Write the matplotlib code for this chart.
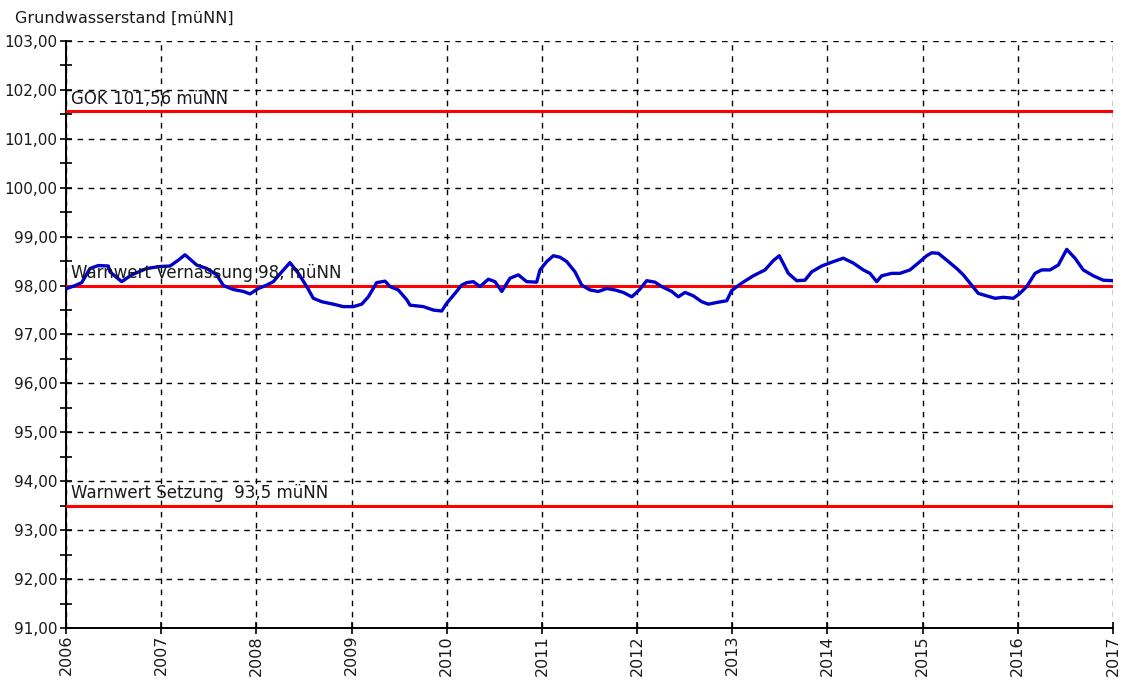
import matplotlib
matplotlib.use("Agg")
import matplotlib.pyplot as plt
from matplotlib.ticker import MultipleLocator, FuncFormatter

jahr = [2006.007, 2006.095, 2006.165, 2006.252, 2006.339, 2006.444, 2006.462, 2006.585,
        2006.690, 2006.848, 2006.988, 2007.093, 2007.180, 2007.250, 2007.373, 2007.478,
        2007.583, 2007.653, 2007.758, 2007.863, 2007.933, 2008.020, 2008.109, 2008.178,
        2008.266, 2008.353, 2008.441, 2008.529, 2008.598, 2008.687, 2008.808, 2008.913,
        2009.019, 2009.107, 2009.176, 2009.264, 2009.352, 2009.404, 2009.491, 2009.580,
        2009.614, 2009.754, 2009.859, 2009.947, 2010.000, 2010.087, 2010.157, 2010.210,
        2010.279, 2010.350, 2010.437, 2010.507, 2010.578, 2010.665, 2010.752, 2010.840,
        2010.945, 2010.980, 2011.050, 2011.120, 2011.190, 2011.261, 2011.348, 2011.418,
        2011.505, 2011.593, 2011.681, 2011.768, 2011.855, 2011.944, 2012.023, 2012.101,
        2012.188, 2012.259, 2012.364, 2012.433, 2012.504, 2012.591, 2012.679, 2012.748,
        2012.853, 2012.942, 2012.994, 2013.099, 2013.221, 2013.344, 2013.431, 2013.494,
        2013.589, 2013.677, 2013.764, 2013.834, 2013.940, 2014.062, 2014.167, 2014.272,
        2014.377, 2014.447, 2014.518, 2014.570, 2014.675, 2014.762, 2014.867, 2014.972,
        2015.043, 2015.095, 2015.165, 2015.253, 2015.358, 2015.427, 2015.498, 2015.585,
        2015.673, 2015.761, 2015.848, 2015.953, 2016.016, 2016.094, 2016.181, 2016.251,
        2016.339, 2016.426, 2016.514, 2016.601, 2016.688, 2016.793, 2016.898, 2017.000]
pegel = [97.94, 98.00, 98.06, 98.35, 98.41, 98.40, 98.28, 98.08,
         98.22, 98.35, 98.39, 98.40, 98.52, 98.63, 98.42, 98.35,
         98.22, 98.00, 97.92, 97.88, 97.83, 97.94, 98.01, 98.08,
         98.28, 98.47, 98.25, 97.98, 97.74, 97.67, 97.62, 97.57,
         97.57, 97.62, 97.77, 98.06, 98.09, 97.98, 97.91, 97.71,
         97.60, 97.57, 97.50, 97.48, 97.64, 97.84, 98.01, 98.06,
         98.08, 97.98, 98.13, 98.08, 97.88, 98.15, 98.22, 98.08,
         98.07, 98.32, 98.49, 98.61, 98.58, 98.49, 98.28, 98.01,
         97.91, 97.88, 97.94, 97.91, 97.86, 97.77, 97.91, 98.10,
         98.07, 97.98, 97.88, 97.77, 97.86, 97.79, 97.67, 97.62,
         97.66, 97.69, 97.90, 98.05, 98.20, 98.32, 98.51, 98.61,
         98.25, 98.10, 98.11, 98.28, 98.40, 98.49, 98.56, 98.46,
         98.32, 98.25, 98.08, 98.20, 98.25, 98.25, 98.32, 98.49,
         98.61, 98.67, 98.66, 98.52, 98.35, 98.22, 98.05, 97.84,
         97.79, 97.74, 97.76, 97.74, 97.83, 97.98, 98.25, 98.32,
         98.32, 98.42, 98.74, 98.56, 98.32, 98.20, 98.11, 98.10]

# Grenzwerte
grenz_werte = [101.56, 98.0, 93.5]
grenz_texte = ["GOK 101,56 müNN", "Warnwert Vernässung 98, müNN", "Warnwert Setzung  93,5 müNN"]

jahre = list(range(2006, 2018))

plt.rcParams['font.family'] = ['DejaVu Sans']
textfarbe = '#1a1a1a'

fig = plt.figure(figsize=(11.25, 6.8), dpi=100)
ax = fig.add_axes([0.0587, 0.0765, 0.9306, 0.8632])

for wert, txt in zip(grenz_werte, grenz_texte):
    ax.axhline(wert, color='#ff0000', lw=2.2, zorder=3)
    ax.text(2006.05, wert + 0.07, txt, fontsize=12, color=textfarbe,
            ha='left', va='bottom', zorder=5)

ax.plot(jahr, pegel, color='#0000c8', lw=2.4, zorder=4)

ax.set_xlim(2006, 2017)
ax.set_ylim(91, 103)
ax.set_xticks(jahre)
ax.set_xticklabels([str(j) for j in jahre], rotation=90, fontsize=11.5, color=textfarbe)
ax.yaxis.set_major_locator(MultipleLocator(1))
ax.yaxis.set_minor_locator(MultipleLocator(0.5))
ax.yaxis.set_major_formatter(FuncFormatter(lambda v, p: f"{v:.2f}".replace('.', ',')))
ax.tick_params(axis='y', which='both', direction='inout', length=8, width=1.2,
               labelsize=11, labelcolor=textfarbe, pad=2)
ax.tick_params(axis='x', direction='inout', length=8, width=1.2, pad=1)

ax.grid(True, which='major', color='black', linestyle=(0, (4, 4)), lw=1.0)
ax.set_axisbelow(True)
for s in ['top', 'right']:
    ax.spines[s].set_visible(False)
for s in ['left', 'bottom']:
    ax.spines[s].set_linewidth(1.4)

fig.text(15 / 1125, 1 - 18 / 680, "Grundwasserstand [müNN]", fontsize=11.5,
         ha='left', va='center', color=textfarbe)

fig.savefig("out.png", dpi=100)
